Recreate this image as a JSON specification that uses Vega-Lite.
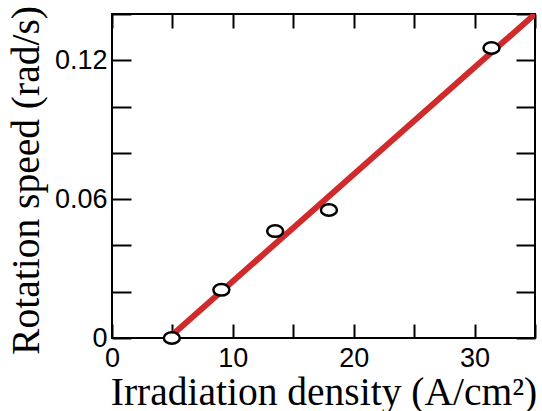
{
  "$schema": "https://vega.github.io/schema/vega-lite/v6.json",
  "width": 423,
  "height": 324,
  "autosize": {"type": "none"},
  "padding": {"left": 112, "top": 14, "right": 7, "bottom": 73},
  "background": "white",
  "config": {
    "view": {"stroke": "black", "strokeWidth": 2},
    "axis": {
      "grid": false,
      "domain": false,
      "tickColor": "black",
      "tickWidth": 2,
      "labelFont": "Liberation Sans",
      "labelFontSize": 27,
      "labelColor": "black",
      "titleFont": "Liberation Serif",
      "titleFontSize": 39.5,
      "titleFontWeight": "normal",
      "titleColor": "black"
    }
  },
  "datasets": {
    "measured": [
      {"density": 4.95, "speed": 0.0},
      {"density": 9.05, "speed": 0.0208},
      {"density": 13.5, "speed": 0.0462},
      {"density": 17.95, "speed": 0.0553},
      {"density": 31.4, "speed": 0.1253}
    ],
    "fit": [
      {"density": 4.7, "speed": 0.0},
      {"density": 35, "speed": 0.14}
    ]
  },
  "layer": [
    {
      "data": {"name": "fit"},
      "mark": {"type": "line", "color": "#d12a2b", "strokeWidth": 6, "clip": true},
      "encoding": {
        "x": {
          "field": "density", "type": "quantitative",
          "scale": {"domain": [0, 35], "nice": false, "zero": false},
          "axis": {
            "orient": "bottom",
            "title": "Irradiation density (A/cm²)",
            "values": [0, 5, 10, 15, 20, 25, 30, 35],
            "labelExpr": "datum.value % 10 === 0 ? format(datum.value, 'd') : ''",
            "tickSize": -14,
            "labelPadding": 21,
            "labelFlush": false,
            "labelOverlap": false,
            "titleX": 211.5,
            "titleY": 66,
            "titleBaseline": "alphabetic",
            "titleAlign": "center"
          }
        },
        "y": {
          "field": "speed", "type": "quantitative",
          "scale": {"domain": [0, 0.14], "nice": false, "zero": false},
          "axis": {
            "orient": "left",
            "title": "Rotation speed (rad/s)",
            "values": [0, 0.02, 0.04, 0.06, 0.08, 0.1, 0.12, 0.14],
            "labelExpr": "datum.value === 0 ? '0' : (abs(datum.value - 0.06) < 1e-9 ? '0.06' : (abs(datum.value - 0.12) < 1e-9 ? '0.12' : ''))",
            "tickSize": -19,
            "labelPadding": 24,
            "labelFlush": false,
            "labelOverlap": false,
            "titleAngle": -90,
            "titleX": -74,
            "titleY": 166,
            "titleBaseline": "alphabetic",
            "titleAlign": "center"
          }
        }
      }
    },
    {
      "data": {"name": "measured"},
      "mark": {
        "type": "point",
        "shape": "M -1 0 A 1 0.72 0 1 1 1 0 A 1 0.72 0 1 1 -1 0 Z",
        "size": 256,
        "filled": false,
        "fill": "white",
        "fillOpacity": 1,
        "stroke": "black",
        "strokeWidth": 2.5,
        "opacity": 1
      },
      "encoding": {
        "x": {
          "field": "density", "type": "quantitative",
          "axis": {
            "orient": "top",
            "title": null,
            "labels": false,
            "values": [0, 5, 10, 15, 20, 25, 30, 35],
            "tickSize": -14
          }
        },
        "y": {
          "field": "speed", "type": "quantitative",
          "axis": {
            "orient": "right",
            "title": null,
            "labels": false,
            "values": [0, 0.02, 0.04, 0.06, 0.08, 0.1, 0.12, 0.14],
            "tickSize": -19
          }
        }
      }
    }
  ]
}
